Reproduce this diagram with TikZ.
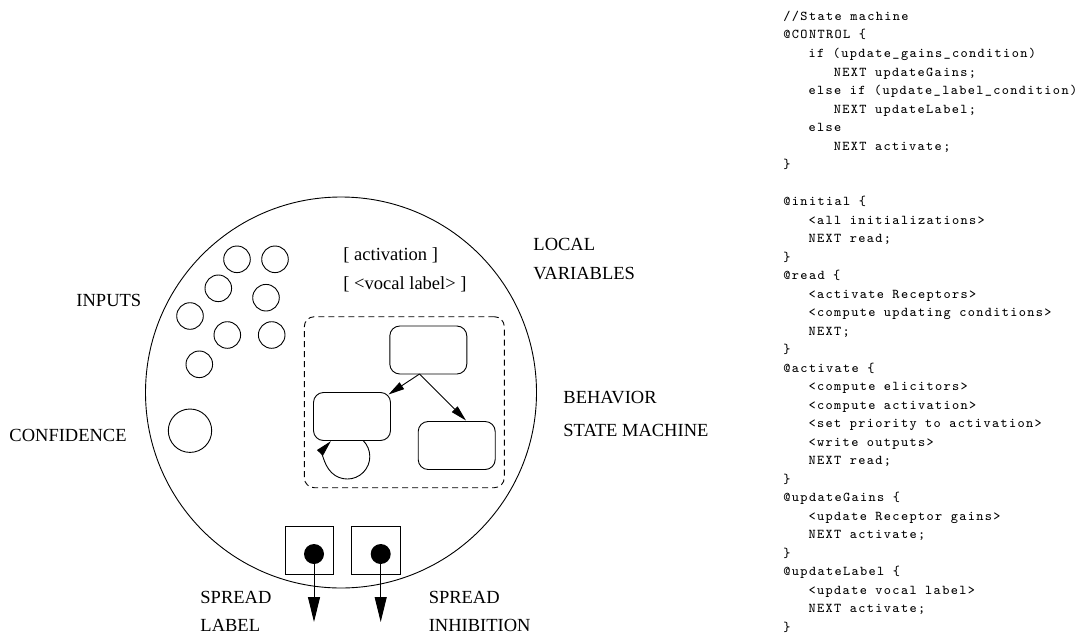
\documentclass[tikz,border=0pt]{standalone}
\usepackage{fontspec}
\setmainfont{Liberation Serif}
\newfontfamily\codefont{lmmono8-regular.otf}[LetterSpace=10]
\usetikzlibrary{arrows.meta}
\begin{document}
\begin{tikzpicture}[x=1pt,y=-1pt,
  line width=0.9pt,
  lbl/.style={font=\fontsize{18.5}{22}\selectfont, anchor=base west, inner sep=0pt},
  code/.style={font=\codefont\fontsize{13.5}{18.5}\selectfont, anchor=base west, inner sep=0pt},
  incirc/.style={draw, circle, inner sep=0pt, minimum size=26.6pt},
  statebox/.style={draw, rounded corners=10pt, minimum width=77pt, minimum height=48pt, inner sep=0pt},
  outbox/.style={draw, minimum size=48.3pt, inner sep=0pt},
  outdot/.style={fill=black, circle, inner sep=0pt, minimum size=20pt},
  sarrow/.style={-{Triangle[length=16pt,width=8pt]}},
  oarrow/.style={-{Triangle[length=25pt,width=12pt]}}
]
\useasboundingbox (0,0) rectangle (1078,634);

% big circle
\node[draw, circle, inner sep=0pt, minimum size=391pt] (big) at (341,392.5) {};

% input circles
\node[incirc] (i1) at (237,259.3) {};
\node[incirc] (i2) at (275,259.3) {};
\node[incirc] (i3) at (218.3,288.3) {};
\node[incirc] (i4) at (266,297.7) {};
\node[incirc] (i5) at (190,316) {};
\node[incirc] (i6) at (227.3,335) {};
\node[incirc] (i7) at (271.7,335) {};
\node[incirc] (i8) at (199.3,364.3) {};
\node[draw, circle, inner sep=0pt, minimum size=43.4pt] (conf) at (190,430.7) {};

% local variables
\node[lbl] (va) at (343,260) {[ activation ]};
\node[lbl] (vl) at (343,289) {[ <vocal label> ]};

% behavior box
\node[draw, dashed, dash pattern=on 6pt off 4pt, rounded corners=10pt, minimum width=200pt, minimum height=171pt] (beh) at (404.3,402.2) {};
\node[statebox] (T) at (428.3,350) {};
\node[statebox] (L) at (352,416.5) {};
\node[statebox] (R) at (456.7,445.5) {};
\coordinate (ts) at (419.5,374);
\coordinate (lt) at (388.5,394.5);
\coordinate (rt) at (466,420.5);
\draw[sarrow] (ts) -- (lt);
\draw[sarrow] (ts) -- (rt);
\coordinate (loopS) at (363.1,440.5);
\draw[sarrow] (loopS) arc[start angle=-45.4, end angle=223, radius=22.5];

% outputs
\node[outbox] (s1) at (309.2,550.2) {};
\node[outbox] (s2) at (375.8,550.2) {};
\node[outdot] (d1) at (314,554) {};
\node[outdot] (d2) at (380.7,554) {};
\coordinate (e1) at (314,622);
\coordinate (e2) at (380.7,622);
\draw[oarrow] (d1.center) -- (e1);
\draw[oarrow] (d2.center) -- (e2);

% labels
\node[lbl] (inputs) at (76,306) {INPUTS};
\node[lbl] (confl) at (9,441.5) {CONFIDENCE};
\node[lbl] (loc1) at (533,250.5) {LOCAL};
\node[lbl] (loc2) at (533,279.5) {VARIABLES};
\node[lbl] (beh1) at (563,403.5) {BEHAVIOR};
\node[lbl] (beh2) at (563,436) {STATE MACHINE};
\node[lbl] (sl1) at (200,603) {SPREAD};
\node[lbl] (sl2) at (200,631) {LABEL};
\node[lbl] (si1) at (428.3,603) {SPREAD};
\node[lbl] (si2) at (428.3,631) {INHIBITION};

% code
\node[code] (c1) at (783,20.5) {//State machine};
\node[code] (c2) at (783,39) {@CONTROL \{};
\node[code] (c3) at (808.2,57.5) {if (update\_gains\_condition)};
\node[code] (c4) at (833.4,76) {NEXT updateGains;};
\node[code] (c5) at (808.2,94.5) {else if (update\_label\_condition)};
\node[code] (c6) at (833.4,113) {NEXT updateLabel;};
\node[code] (c7) at (808.2,131.5) {else};
\node[code] (c8) at (833.4,150) {NEXT activate;};
\node[code] (c9) at (783,168.5) {\}};
\node[code] (c11) at (783,205.5) {@initial \{};
\node[code] (c12) at (808.2,224) {<all initializations>};
\node[code] (c13) at (808.2,242.5) {NEXT read;};
\node[code] (c14) at (783,261) {\}};
\node[code] (c15) at (783,279.5) {@read \{};
\node[code] (c16) at (808.2,298) {<activate Receptors>};
\node[code] (c17) at (808.2,316.5) {<compute updating conditions>};
\node[code] (c18) at (808.2,335) {NEXT;};
\node[code] (c19) at (783,353.5) {\}};
\node[code] (c20) at (783,372) {@activate \{};
\node[code] (c21) at (808.2,390.5) {<compute elicitors>};
\node[code] (c22) at (808.2,409) {<compute activation>};
\node[code] (c23) at (808.2,427.5) {<set priority to activation>};
\node[code] (c24) at (808.2,446) {<write outputs>};
\node[code] (c25) at (808.2,464.5) {NEXT read;};
\node[code] (c26) at (783,483) {\}};
\node[code] (c27) at (783,501.5) {@updateGains \{};
\node[code] (c28) at (808.2,520) {<update Receptor gains>};
\node[code] (c29) at (808.2,538.5) {NEXT activate;};
\node[code] (c30) at (783,557) {\}};
\node[code] (c31) at (783,575.5) {@updateLabel \{};
\node[code] (c32) at (808.2,594) {<update vocal label>};
\node[code] (c33) at (808.2,612.5) {NEXT activate;};
\node[code] (c34) at (783,631) {\}};
\end{tikzpicture}
\end{document}
